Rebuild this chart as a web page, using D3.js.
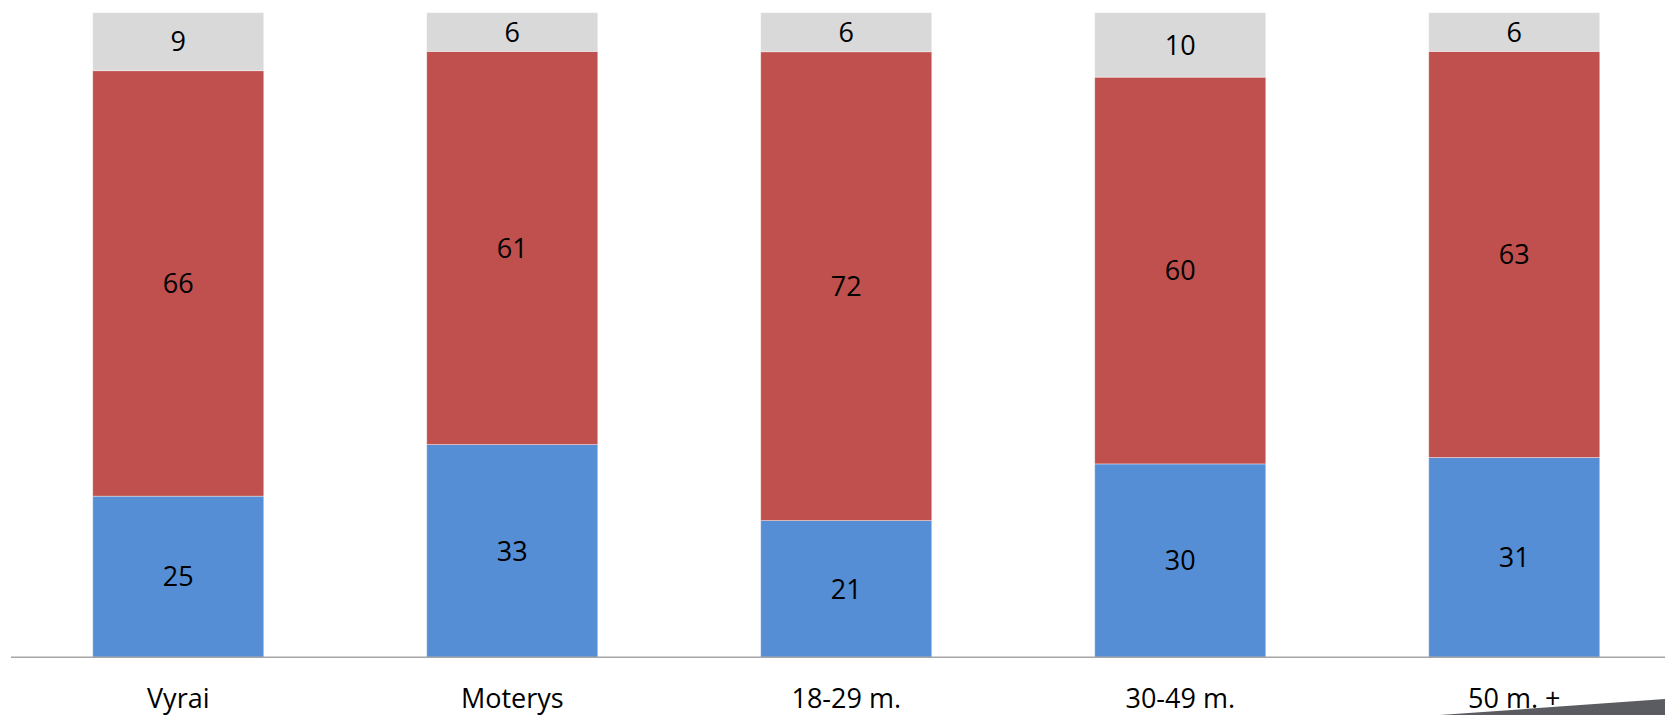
<!DOCTYPE html>
<html>
<head>
<meta charset="utf-8">
<script src="https://cdn.jsdelivr.net/npm/d3@7"></script>
<style>
  html, body { margin: 0; padding: 0; background: #fff; }
  svg { display: block; }
</style>
</head>
<body>
<svg id="chart" width="1665" height="715"></svg>
<script>
const categories = ["Vyrai", "Moterys", "18-29 m.", "30-49 m.", "50 m. +"];
const seriesKeys = ["s1", "s2", "s3"];
const s1 = [25, 33, 21, 30, 31];
const s2 = [66, 61, 72, 60, 63];
const s3 = [9, 6, 6, 10, 6];
const colors = ["#558ED5", "#C0504D", "#D9D9D9"];

const rows = categories.map((c, i) => ({ cat: c, s1: s1[i], s2: s2[i], s3: s3[i] }));

const W = 1665, H = 715;
const svg = d3.select("#chart");

const x = d3.scaleBand().domain(categories).range([11.25, 1681.25]).paddingInner(0.488).paddingOuter(0.244);
const y = d3.scaleLinear().domain([0, 1]).range([657.3, 12.7]);

const stack = d3.stack().keys(seriesKeys).offset(d3.stackOffsetExpand);
const layers = stack(rows);

const g = svg.append("g");
layers.forEach((layer, li) => {
  const lg = g.append("g");
  lg.selectAll("rect").data(layer).join("rect")
    .attr("x", d => x(d.data.cat))
    .attr("width", x.bandwidth())
    .attr("y", d => y(d[1]))
    .attr("height", d => y(d[0]) - y(d[1]))
    .attr("fill", colors[li])
    .attr("stroke", "rgba(255,255,255,0.45)")
    .attr("stroke-width", 0.8);
  lg.selectAll("text").data(layer).join("text")
    .attr("x", d => x(d.data.cat) + x.bandwidth() / 2)
    .attr("y", d => (y(d[0]) + y(d[1])) / 2)
    .attr("dy", "0.36em")
    .attr("text-anchor", "middle")
    .attr("font-family", "'Open Sans', sans-serif")
    .attr("font-size", 27)
    .attr("fill", "#000")
    .text(d => d.data[seriesKeys[li]]);
});

// x axis
const axis = svg.append("g").attr("transform", `translate(0,${y(0)})`)
  .call(d3.axisBottom(x).tickSize(0).tickPadding(0));
axis.select(".domain").attr("d", `M11,0H${W}`).attr("stroke", "#a6a6a6").attr("stroke-width", 1.6);
axis.selectAll(".tick text")
  .attr("y", 51)
  .attr("dy", 0)
  .attr("font-family", "'Open Sans', sans-serif")
  .attr("font-size", 27)
  .attr("fill", "#000");

// decorative slide wedge bottom-right
svg.append("path")
  .attr("d", `M1440,${H}L${W},699L${W},${H}Z`)
  .attr("fill", "#5b5c61");
</script>
</body>
</html>
